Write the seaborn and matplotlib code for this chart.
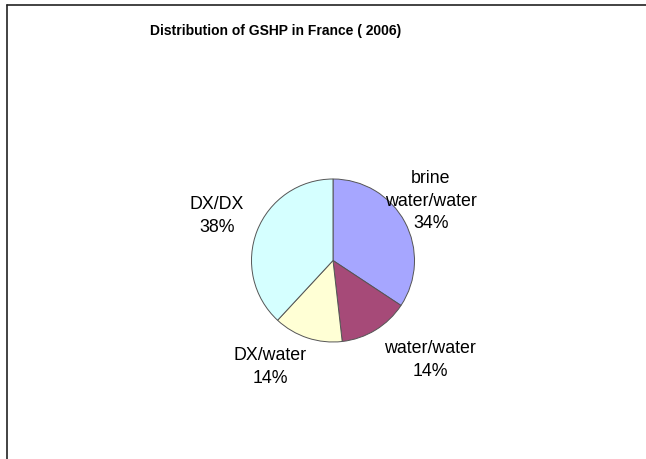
import matplotlib
matplotlib.use("Agg")
import matplotlib.pyplot as plt
from matplotlib.lines import Line2D
import seaborn as sns

# data
categories = ["brine\nwater/water", "water/water", "DX/water", "DX/DX"]
shares = [34.3, 13.9, 13.7, 38.1]
colors = ["#A6A6FF", "#A64A78", "#FFFFD5", "#D5FFFF"]

# label centres in pixel space (x right, y down)
label_pos = [(431, 201), (430, 360), (270, 367), (217, 216)]

W, H = 646, 459

sns.set_theme(style="white")
plt.rcParams["font.family"] = ["Liberation Sans", "DejaVu Sans"]

fig = plt.figure(figsize=(W / 100, H / 100), dpi=100)
ax = fig.add_axes([0, 0, 1, 1])
ax.set_xlim(0, W)
ax.set_ylim(0, H)
ax.set_aspect("equal")
ax.axis("off")

wedges, _ = ax.pie(shares, colors=colors, startangle=90, counterclock=False,
                   center=(333, H - 260.5), radius=81.5,
                   wedgeprops=dict(edgecolor="#555555", linewidth=0.7))
ax.set_xlim(0, W)
ax.set_ylim(0, H)

for cat, val, (x, y) in zip(categories, shares, label_pos):
    ax.text(x, H - y, f"{cat}\n{round(val)}%", ha="center", va="center",
            fontsize=12.8, linespacing=1.4, color="black")

ax.text(W / 2 - 47, H - 31, "Distribution of GSHP in France ( 2006)",
        ha="center", va="center", fontsize=10, fontweight="bold",
        color="black")

# chart frame (only top and left edges visible)
fig.add_artist(Line2D([7 / W, 1], [1 - 4.5 / H, 1 - 4.5 / H],
                      transform=fig.transFigure, color="#222222", lw=1.2))
fig.add_artist(Line2D([7 / W, 7 / W], [0, 1 - 4.5 / H],
                      transform=fig.transFigure, color="#222222", lw=1.2))

fig.savefig("out.png", dpi=100, facecolor="white")
